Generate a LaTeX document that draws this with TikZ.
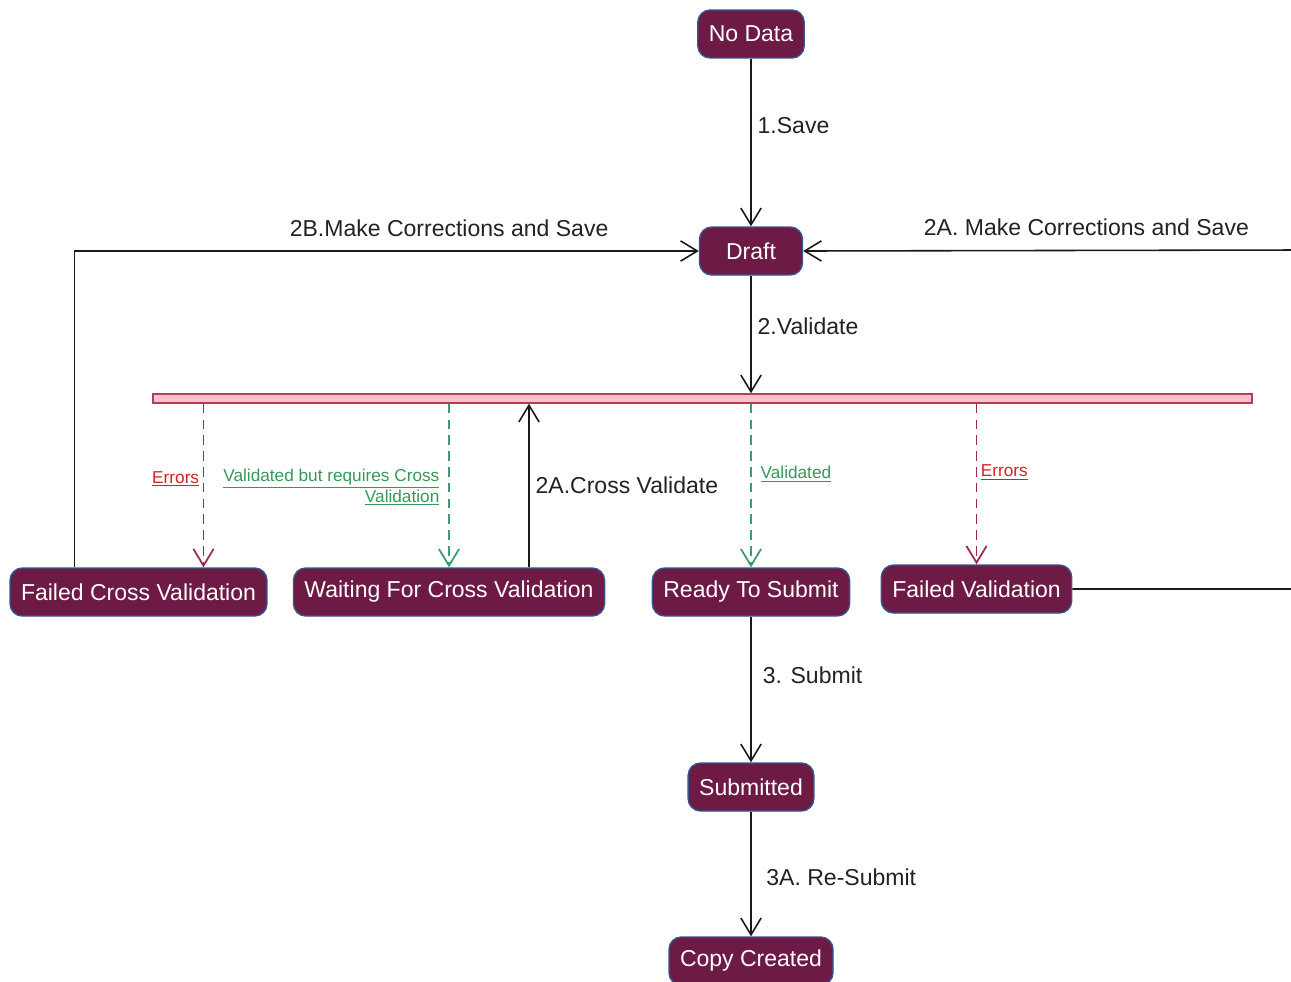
\documentclass[tikz,border=0pt]{standalone}
\usepackage{fontspec}
\setmainfont{Liberation Sans}
\usetikzlibrary{arrows.meta,positioning}
\definecolor{plum}{HTML}{6D1A45}
\definecolor{edgeblue}{HTML}{34568F}
\definecolor{barpink}{HTML}{FFC0CB}
\definecolor{barred}{HTML}{B0405A}
\definecolor{errline}{HTML}{A02850}
\definecolor{errtext}{HTML}{D42020}
\definecolor{okline}{HTML}{3C9C6C}
\definecolor{oktext}{HTML}{35985A}
\definecolor{txtgray}{HTML}{222222}
\begin{document}
\begin{tikzpicture}[x=0.02cm,y=-0.02cm,
  state/.style={draw=edgeblue,fill=plum,text=white,rounded corners=7pt,
    minimum height=0.96cm,minimum width=2.06cm,inner xsep=0.22cm,
    line width=0.8pt,font=\fontsize{13.1}{15}\selectfont},
  bar/.style={draw=barred,fill=barpink,line width=0.8pt,inner sep=0pt,
    minimum width=21.98cm,minimum height=0.18cm},
  flow/.style={draw=black!90,line width=0.9pt,-{Straight Barb[length=9.5pt,width=11.5pt]}},
  errflow/.style={flow,draw=errline,line width=1pt,dash pattern=on 5.5pt off 3.5pt},
  okflow/.style={flow,draw=okline,line width=1pt,dash pattern=on 5.5pt off 3.5pt},
  lbl/.style={text=txtgray,font=\fontsize{13.1}{15}\selectfont},
  errlbl/.style={text=errtext,font=\fontsize{9.8}{12}\selectfont,inner sep=2pt},
  oklbl/.style={text=oktext,font=\fontsize{9.8}{12}\selectfont,inner sep=2pt}]
\useasboundingbox (0,0) rectangle (1291,981);

% states
\node[state] (nodata) at (751,34) {No Data};
\node[state] (draft) at (751,251) {Draft};
\node[bar] (bar) at (702.5,398.5) {};
\node[state] (fcv) at (138.5,592) {Failed Cross Validation};
\node[state] (wait) at (449,592) {Waiting For Cross Validation};
\node[state] (ready) at (751,592) {Ready To Submit};
\node[state] (fv) at (976.5,589) {Failed Validation};
\node[state] (sub) at (751,787) {Submitted};
\node[state] (copy) at (751,961) {Copy Created};
\coordinate (rt) at (1300,250);

% main line
\draw[flow] (nodata) -- node[lbl,right,pos=0.4]{1.Save} (draft);
\draw[flow] (draft) -- node[lbl,right,pos=0.43]{2.Validate} (draft |- bar.north);
\draw[flow] (ready) -- node[lbl,right,pos=0.4,xshift=3pt]{3. Submit} (sub);
\draw[flow] (sub) -- node[lbl,right,pos=0.53,xshift=5pt]{3A. Re-Submit} (copy);

% validation results
\draw[errflow] ([xshift=1.3cm]fcv.north |- bar.south) -- node[errlbl,left,pos=0.46]{\underline{Errors}} ([xshift=1.3cm]fcv.north);
\draw[okflow] (wait.north |- bar.south) -- node[oklbl,left,pos=0.51,xshift=-3pt,align=right]{\underline{Validated but requires Cross}\\\underline{Validation}} (wait.north);
\draw[flow] ([xshift=1.6cm]wait.north) -- node[lbl,right,pos=0.5]{2A.Cross Validate} ([xshift=1.6cm]wait.north |- bar.south);
\draw[okflow] (ready.north |- bar.south) -- node[oklbl,right,pos=0.43,xshift=3pt]{\underline{Validated}} (ready.north);
\draw[errflow] (fv.north |- bar.south) -- node[errlbl,right,pos=0.43]{\underline{Errors}} (fv.north);

% corrections
\draw[flow] ([xshift=-1.28cm]fcv.north) |- node[lbl,above,pos=0.8,yshift=4.5pt]{2B.Make Corrections and Save} (draft.west);
\draw[flow] (fv.east) -| (rt) -- node[lbl,above,pos=0.43,yshift=4.5pt]{2A. Make Corrections and Save} (draft.east);

\end{tikzpicture}
\end{document}
